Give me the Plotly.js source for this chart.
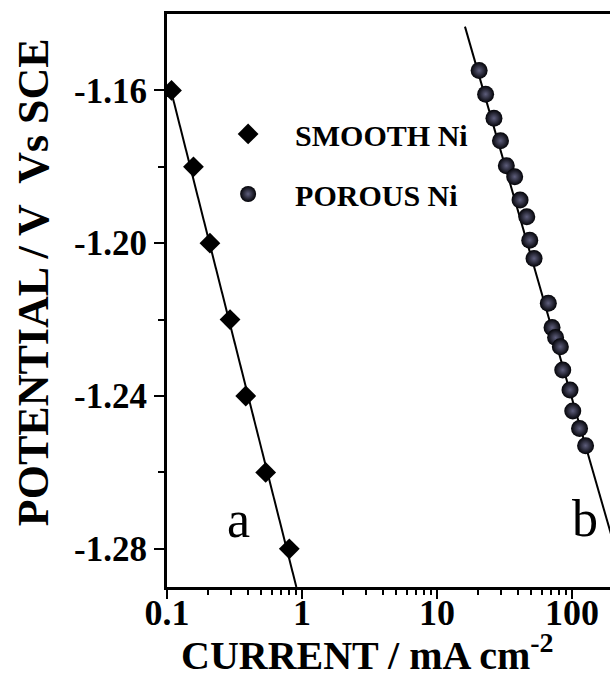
<!DOCTYPE html>
<html>
<head>
<meta charset="utf-8">
<script src="https://cdn.plot.ly/plotly-3.0.1.min.js"></script>
<style>html,body{margin:0;padding:0;background:#fff;}#chart{width:610px;height:687px;}</style>
</head>
<body>
<div id="chart"></div>
<script>
// Smooth Ni (diamonds)
const smoothCurrent = [0.108, 0.157, 0.208, 0.293, 0.383, 0.538, 0.805];
const smoothPotential = [-1.16, -1.18, -1.20, -1.22, -1.24, -1.26, -1.28];
// Tafel fit line for smooth Ni
const smoothFitCurrent = [0.107, 0.908];
const smoothFitPotential = [-1.16, -1.29];

// Porous Ni (spheres)
const porousCurrent = [20.5, 22.9, 26.4, 29.5, 32.6, 37.6, 41.2, 46.2, 48.6, 52.3,
                       66.7, 71.1, 75.5, 81.9, 85.3, 96.6, 101.2, 113.6, 125.9];
const porousPotential = [-1.1548, -1.1610, -1.1673, -1.1732, -1.1797, -1.1826, -1.1887, -1.1931, -1.1992, -1.2040,
                         -1.2157, -1.2221, -1.2247, -1.2271, -1.2332, -1.2384, -1.2439, -1.2485, -1.2530];
// Tafel fit line for porous Ni
const porousFitCurrent = [16.1, 200];
const porousFitPotential = [-1.1433, -1.2777];

const xTickVals = [0.1, 1, 10, 100];
const xTickText = ['0.1', '1', '10', '100'];
const yTickVals = [-1.16, -1.20, -1.24, -1.28];
const yTickText = ['-1.16', '-1.20', '-1.24', '-1.28'];
const yMinorVals = [-1.18, -1.22, -1.26];
const xMinorVals = [];
[0.1, 1, 10, 100].forEach(d => { for (let k = 2; k <= 9; k++) xMinorVals.push(+(d * k).toPrecision(3)); });

const serif = 'Liberation Serif, Times New Roman, serif';

const traces = [
  {x: smoothFitCurrent, y: smoothFitPotential, mode: 'lines', line: {color: '#000', width: 2}, showlegend: false, hoverinfo: 'skip'},
  {x: porousFitCurrent, y: porousFitPotential, mode: 'lines', line: {color: '#000', width: 2}, showlegend: false, hoverinfo: 'skip'},
  {x: smoothCurrent, y: smoothPotential, mode: 'markers', name: 'SMOOTH Ni', legendgroup: 'a',
   marker: {symbol: 'diamond', size: 16, color: '#000', line: {width: 0}}},
  {x: porousCurrent, y: porousPotential, mode: 'markers', name: 'POROUS Ni', legendgroup: 'b',
   marker: {symbol: 'circle', size: 17, color: '#020206', gradient: {type: 'radial', color: '#5e5e7c'}, line: {width: 0}}}
];

const layout = {
  width: 610, height: 687,
  margin: {l: 167, r: 0, t: 14, b: 100},
  paper_bgcolor: '#fff', plot_bgcolor: '#fff',
  showlegend: true,
  legend: {x: 0.077, y: 0.836, xanchor: 'left', yanchor: 'top', bgcolor: 'rgba(0,0,0,0)',
           font: {family: serif, size: 30, color: '#000', weight: 700},
           itemwidth: 84, traceorder: 'grouped', tracegroupgap: 18},
  xaxis: {type: 'log', range: [-1, 2.281], showgrid: false, zeroline: false,
          showline: true, linecolor: '#000', linewidth: 3, mirror: true,
          ticks: 'outside', ticklen: 9, tickwidth: 2, tickcolor: '#000',
          tickvals: xTickVals, ticktext: xTickText, ticklabelstandoff: -17,
          minor: {tickvals: xMinorVals, ticks: 'outside', ticklen: 5, tickwidth: 2, tickcolor: '#000', showgrid: false},
          tickfont: {family: serif, size: 36, color: '#000', weight: 700}},
  yaxis: {range: [-1.29, -1.14], showgrid: false, zeroline: false,
          showline: true, linecolor: '#000', linewidth: 3, mirror: false,
          ticks: 'outside', ticklen: 10, tickwidth: 2, tickcolor: '#000',
          tickvals: yTickVals, ticktext: yTickText,
          minor: {tickvals: yMinorVals, ticks: 'outside', ticklen: 6, tickwidth: 2, tickcolor: '#000', showgrid: false},
          tickfont: {family: serif, size: 35, color: '#000', weight: 700}},
  annotations: [
    {text: 'CURRENT / mA cm<sup>-2</sup>', xref: 'paper', yref: 'paper', x: 0.452, y: -0.115,
     xanchor: 'center', yanchor: 'middle', showarrow: false,
     font: {family: serif, size: 40, color: '#000', weight: 700}},
    {text: 'POTENTIAL / V  Vs SCE', xref: 'paper', yref: 'paper', x: -0.3025, y: 0.532,
     xanchor: 'center', yanchor: 'middle', textangle: -90, showarrow: false,
     font: {family: serif, size: 44, color: '#000', weight: 700}},
    {text: 'a', xref: 'paper', yref: 'paper', x: 0.1625, y: 0.117, xanchor: 'center', yanchor: 'middle',
     showarrow: false, font: {family: serif, size: 52, color: '#000'}},
    {text: 'b', xref: 'paper', yref: 'paper', x: 0.9436, y: 0.12, xanchor: 'center', yanchor: 'middle',
     showarrow: false, font: {family: serif, size: 52, color: '#000'}}
  ]
};

Plotly.newPlot('chart', traces, layout, {displayModeBar: false, staticPlot: true});
</script>
</body>
</html>
